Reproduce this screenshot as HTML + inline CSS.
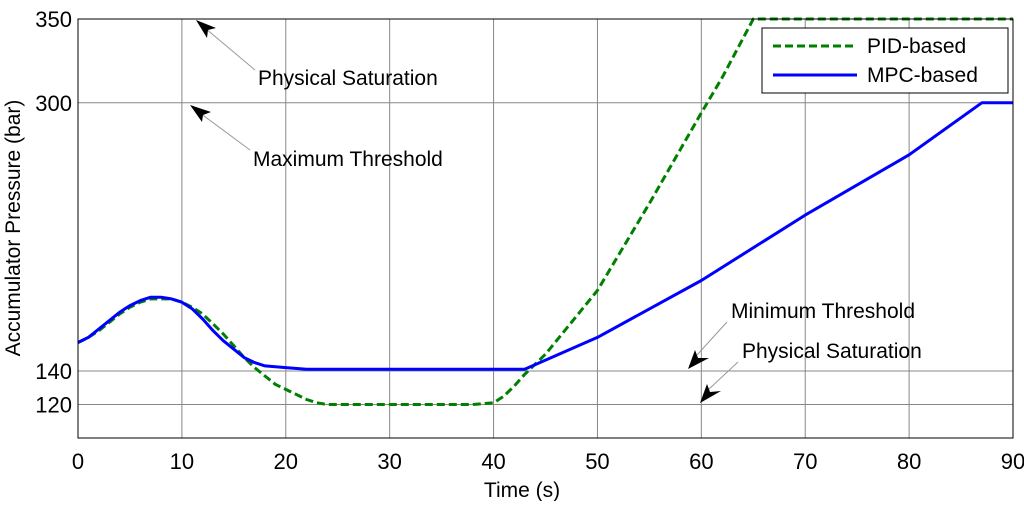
<!DOCTYPE html>
<html><head><meta charset="utf-8"><style>
body{margin:0;background:#fff;}
svg text{font-family:"Liberation Sans",Arial,sans-serif;fill:#000;}
</style></head><body>
<svg width="1024" height="501" xmlns="http://www.w3.org/2000/svg">
<g id="grid"></g>
<g id="series"></g>
<g id="axes"></g>
<g font-size="21">
  <text x="258" y="85">Physical Saturation</text>
  <line x1="255" y1="70" x2="205" y2="28" stroke="#999"/>
  <polygon points="196,20 216,28 208,30 207,38" fill="#000"/>
  <text x="253" y="166">Maximum Threshold</text>
  <line x1="250" y1="150" x2="200" y2="113" stroke="#999"/>
  <polygon points="190,105 211,112 203,115 202,122" fill="#000"/>
  <text x="731" y="318">Minimum Threshold</text>
  <line x1="727" y1="322" x2="697" y2="355" stroke="#999"/>
  <polygon points="688,369 695,350 698,358 709,358" fill="#000"/>
  <text x="742" y="358">Physical Saturation</text>
  <line x1="738" y1="362" x2="708" y2="390" stroke="#999"/>
  <polygon points="700,403 707,384 710,392 721,391" fill="#000"/>
</g>
<g>
  <rect x="762" y="28" width="246" height="65" fill="#fff" stroke="#000"/>
  <line x1="773" y1="46" x2="857" y2="46" stroke="#008000" stroke-width="3" stroke-dasharray="8,4"/>
  <text x="867" y="53" font-size="21">PID-based</text>
  <line x1="773" y1="75" x2="857" y2="75" stroke="#0000ff" stroke-width="3"/>
  <text x="867" y="82" font-size="21">MPC-based</text>
</g>
<text x="522" y="497" font-size="21" text-anchor="middle">Time (s)</text>
<text transform="translate(20,228) rotate(-90)" font-size="21" text-anchor="middle">Accumulator Pressure (bar)</text>
</svg>
<script>
const xTicks=[0,10,20,30,40,50,60,70,80,90];
const yTicks=[120,140,300,350];
const pidT=[0,1,2,3,4,5,6,7,8,9,10,11,12,13,14,15,16,17,18,19,20,21,22,23,24,25,30,35,38,40,41,42,43,45,50,55,60,62,65,90];
const pidV=[157,160,164,169,174,178,181,183,183,183,181,178,174,168,162,155,148,142,137,132,129,126,123,121,120,120,120,120,120,121,125,131,138,150,188,240,294,315,350,350];
const mpcT=[0,1,2,3,4,5,6,7,8,9,10,11,12,13,14,15,16,17,18,20,22,30,40,43,50,60,70,80,87,90];
const mpcV=[157,160,165,170,175,179,182,184,184,183,181,177,171,164,158,153,148,145,143,142,141,141,141,141,160,194,233,269,300,300];
const X0=78,X1=1013,Y0=438,Y1=19,xmin=0,xmax=90,ymin=100,ymax=350;
const sx=v=>X0+(v-xmin)/(xmax-xmin)*(X1-X0);
const sy=v=>Y0-(v-ymin)/(ymax-ymin)*(Y0-Y1);
const NS="http://www.w3.org/2000/svg";
function mk(tag,attrs,parent){const e=document.createElementNS(NS,tag);for(const k in attrs)e.setAttribute(k,attrs[k]);parent.appendChild(e);return e;}
const grid=document.getElementById('grid'),axes=document.getElementById('axes'),series=document.getElementById('series');
xTicks.forEach(t=>{
  const l=mk('line',{x1:sx(t),x2:sx(t),y1:Y1,y2:Y0,stroke:'#888','stroke-width':1},grid);
  
  
  const tx=mk('text',{x:sx(t),y:469,'font-size':22,'text-anchor':'middle'},axes);
  tx.textContent=t;
  
  
});
yTicks.forEach(t=>{
  const l=mk('line',{x1:X0,x2:X1,y1:sy(t),y2:sy(t),stroke:'#888','stroke-width':1},grid);
  
  
  const tx=mk('text',{x:X0-6,y:sy(t)+8,'font-size':22,'text-anchor':'end'},axes);
  tx.textContent=t;
  
  
});
const frame=mk('rect',{x:X0,y:Y1,width:X1-X0,height:Y0-Y1,fill:'none',stroke:'#000','stroke-width':1},axes);


function path(T,V,color,dash,name){
  const d=T.map((t,i)=>(i?'L':'M')+sx(t).toFixed(1)+','+sy(V[i]).toFixed(1)).join('');
  const p=mk('path',{d:d,fill:'none',stroke:color,'stroke-width':3,'stroke-linejoin':'round'},series);
  if(dash)p.setAttribute('stroke-dasharray',dash);
  
  
}
path(pidT,pidV,'#008000','8,4','pid-line');
path(mpcT,mpcV,'#0000ff',null,'mpc-line');
</script>
</body></html>
